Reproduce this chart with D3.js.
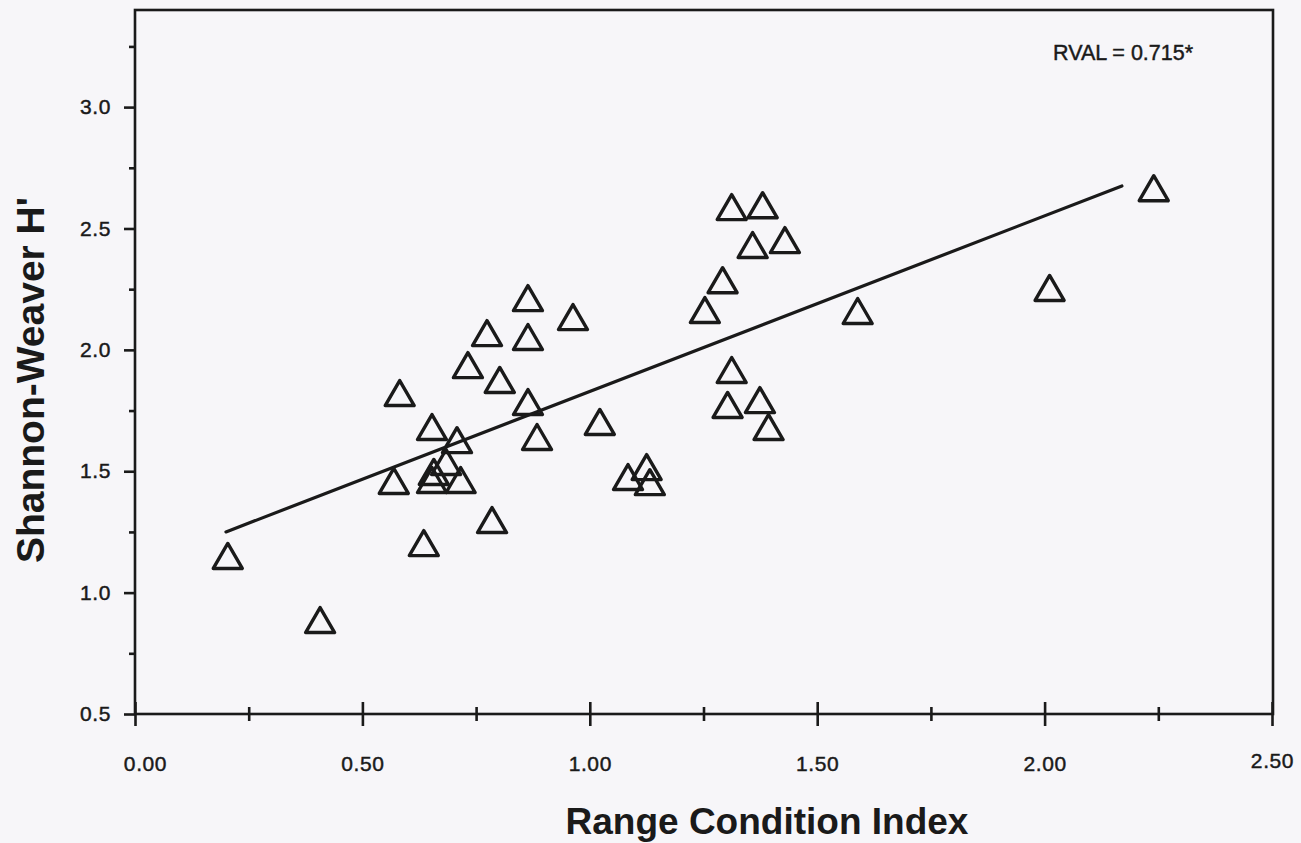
<!DOCTYPE html>
<html>
<head>
<meta charset="utf-8">
<script src="https://cdn.jsdelivr.net/npm/d3@7"></script>
<style>
  html, body { margin: 0; padding: 0; background: #f7f6f9; }
  svg { display: block; }
  text { font-family: "Liberation Sans", Arial, Helvetica, sans-serif; fill: #1a1a1a; }
</style>
</head>
<body>
<svg id="chart" width="1301" height="843"></svg>
<script>
// ---- data ----
const xMajorTicks = [0.0, 0.5, 1.0, 1.5, 2.0, 2.5];
const xMinorTicks = [0.25, 0.75, 1.25, 1.75, 2.25];
const yMajorTicks = [0.5, 1.0, 1.5, 2.0, 2.5, 3.0];
const yMinorTicks = [0.75, 1.25, 1.75, 2.25, 2.75, 3.25];

const rangeConditionIndex = [
  0.204, 0.407, 0.582, 0.569, 0.635, 0.653, 0.708, 0.653, 0.657, 0.684,
  0.716, 0.732, 0.774, 0.802, 0.785, 0.864, 0.864, 0.864, 0.884, 0.963,
  1.022, 1.084, 1.125, 1.132, 1.253, 1.292, 1.312, 1.380, 1.358, 1.429,
  1.312, 1.303, 1.374, 1.393, 1.589, 2.011, 2.240
];
const shannonWeaverH = [
  1.151, 0.887, 1.822, 1.460, 1.204, 1.682, 1.628, 1.464, 1.497, 1.538,
  1.464, 1.937, 2.069, 1.876, 1.299, 2.213, 2.053, 1.785, 1.641, 2.135,
  1.703, 1.476, 1.517, 1.455, 2.164, 2.287, 2.588, 2.596, 2.432, 2.452,
  1.917, 1.773, 1.793, 1.682, 2.160, 2.255, 2.666
];
const fitLineX = [0.20, 2.17];
const fitLineY = [1.25, 2.675];
const annotation = "RVAL = 0.715*";
const xTitle = "Range Condition Index";
const yTitle = "Shannon-Weaver H'";

// ---- layout ----
const svg = d3.select("#chart");
const mLeft = 135, mRight = 1273, mTop = 10, mBottom = 714;
const x = d3.scaleLinear().domain([0, 2.5]).range([mLeft, 1272]);
const y = d3.scaleLinear().domain([0.5, 3.4]).range([mBottom, mTop]);
const ink = "#1a1a1a";

// frame
svg.append("rect")
  .attr("x", mLeft).attr("y", mTop)
  .attr("width", mRight - mLeft).attr("height", mBottom - mTop)
  .attr("fill", "none").attr("stroke", ink).attr("stroke-width", 2.6);

// y axis major
const yAxisG = svg.append("g").attr("transform", `translate(${mLeft},0)`)
  .call(d3.axisLeft(y).tickValues(yMajorTicks).tickSize(11).tickPadding(13)
    .tickFormat(d3.format(".1f")));
yAxisG.select(".domain").remove();
yAxisG.selectAll("line").attr("stroke", ink).attr("stroke-width", 2.6);
yAxisG.selectAll("text").attr("font-size", 21).style("letter-spacing", "0.6px")
  .attr("fill", ink).attr("stroke", ink).attr("stroke-width", 0.45);

// y axis minor
const yMinorG = svg.append("g").attr("transform", `translate(${mLeft},0)`)
  .call(d3.axisLeft(y).tickValues(yMinorTicks).tickSize(6).tickFormat(""));
yMinorG.select(".domain").remove();
yMinorG.selectAll("line").attr("stroke", ink).attr("stroke-width", 2.6);

// x axis major
const xAxisG = svg.append("g").attr("transform", `translate(0,${mBottom})`)
  .call(d3.axisBottom(x).tickValues(xMajorTicks).tickSize(12).tickPadding(30)
    .tickFormat(d3.format(".2f")));
xAxisG.select(".domain").remove();
xAxisG.selectAll("line").attr("y1", -12).attr("stroke", ink).attr("stroke-width", 2.6);
xAxisG.selectAll("text").attr("font-size", 21).style("letter-spacing", "0.6px")
  .attr("fill", ink).attr("stroke", ink).attr("stroke-width", 0.45)
  .attr("dx", (d, i) => i === 0 ? 10 : 0)
  .attr("transform", (d, i) => i === xMajorTicks.length - 1 ? "translate(0,-3)" : null);

// x axis minor
const xMinorG = svg.append("g").attr("transform", `translate(0,${mBottom})`)
  .call(d3.axisBottom(x).tickValues(xMinorTicks).tickSize(7).tickFormat(""));
xMinorG.select(".domain").remove();
xMinorG.selectAll("line").attr("y1", -7).attr("stroke", ink).attr("stroke-width", 2.6);

// regression line
svg.append("path")
  .datum(fitLineX.map((d, i) => [d, fitLineY[i]]))
  .attr("d", d3.line().x(d => x(d[0])).y(d => y(d[1])))
  .attr("fill", "none").attr("stroke", ink).attr("stroke-width", 3.2)
  .attr("stroke-linecap", "round");

// triangles
const hw = 14.5, hh = 12.5;
svg.append("g").selectAll("path")
  .data(rangeConditionIndex.map((d, i) => [d, shannonWeaverH[i]]))
  .join("path")
  .attr("d", d => {
    const cx = x(d[0]), cy = y(d[1]);
    return `M${cx},${cy - hh}L${cx + hw},${cy + hh}L${cx - hw},${cy + hh}Z`;
  })
  .attr("fill", "none").attr("stroke", ink).attr("stroke-width", 3.4)
  .attr("stroke-linejoin", "round");

// annotation
svg.append("text").attr("x", 1053).attr("y", 60)
  .attr("font-size", 21.5).attr("stroke", ink).attr("stroke-width", 0.45)
  .text(annotation);

// axis titles
svg.append("text").attr("x", 767).attr("y", 834)
  .attr("text-anchor", "middle").attr("font-size", 37).attr("font-weight", "bold")
  .text(xTitle);
svg.append("text")
  .attr("transform", "translate(44,380) rotate(-90)")
  .attr("text-anchor", "middle").attr("font-size", 39).attr("font-weight", "bold")
  .text(yTitle);
</script>
</body>
</html>
